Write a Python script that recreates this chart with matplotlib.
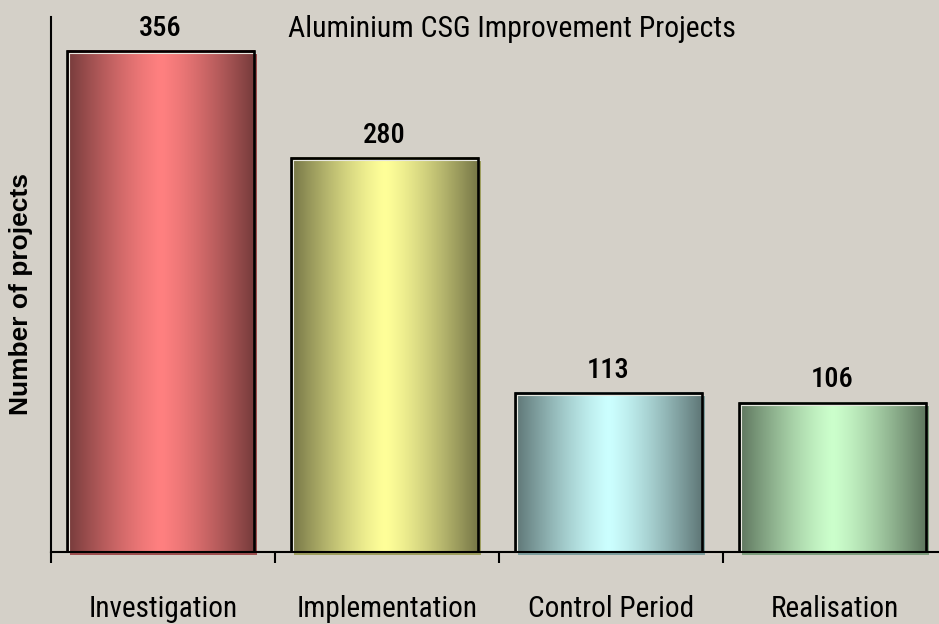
import numpy as np
import matplotlib
matplotlib.use('Agg')
import matplotlib.pyplot as plt
from matplotlib import font_manager
from matplotlib.patches import Rectangle
import matplotlib.transforms as mtrans

categories = ['Investigation', 'Implementation', 'Control Period', 'Realisation']
values = [356, 280, 113, 106]
bar_colors = ['#FF8080', '#FFFF99', '#CCFFFF', '#CCFFCC']
title = 'Aluminium CSG Improvement Projects'
ylabel = 'Number of projects'

names = {f.name for f in font_manager.fontManager.ttflist}
narrow, nscale = 'Liberation Sans', 0.84
for cand, sc in [('Liberation Sans Narrow', 1.0), ('Arial Narrow', 1.0),
                 ('Roboto Condensed', 0.93), ('Open Sans Condensed', 0.95)]:
    if cand in names:
        narrow, nscale = cand, sc
        break
regular = 'Liberation Sans' if 'Liberation Sans' in names else 'DejaVu Sans'

bg = '#D4D0C8'
W, H = 939, 624
fig = plt.figure(figsize=(W / 100, H / 100), dpi=100, facecolor=bg)
ax = fig.add_axes([51 / W, (H - 552) / H, 896 / W, 535 / H])
ax.set_facecolor(bg)

bw = 0.835
shift = -0.012
t = np.linspace(-1, 1, 200)
fac = 1 - 0.54 * np.abs(t) ** 1.3

for i, (v, c) in enumerate(zip(values, bar_colors)):
    rgb = np.array(matplotlib.colors.to_rgb(c))
    x0 = i + shift - bw / 2
    x1 = x0 + bw
    # shadow
    sh_tr = mtrans.offset_copy(ax.transData, fig=fig, x=3, y=-3, units='dots')
    ax.add_patch(Rectangle((x0, 0), bw, v, facecolor=rgb * 0.62, edgecolor='none',
                           transform=sh_tr, zorder=1, clip_on=False))
    # gradient fill
    grad = fac[:, None] * rgb[None, :]
    ax.imshow(grad[None, :, :], extent=(x0, x1, 0, v), aspect='auto',
              interpolation='bilinear', zorder=2)
    # inner highlight on top and left
    hl_tr = mtrans.offset_copy(ax.transData, fig=fig, x=2, y=-2, units='dots')
    ax.plot([x0, x0, x1], [0, v, v], color='#E8E8E0', lw=0.8, transform=hl_tr,
            zorder=2.5, solid_capstyle='butt')
    # outline
    ax.add_patch(Rectangle((x0, 0), bw, v, facecolor='none', edgecolor='black',
                           lw=1.9, zorder=3))
    ax.annotate(str(v), xy=(i + shift, v), xytext=(0, 11), textcoords='offset points',
                ha='center', va='baseline', fontsize=22 * nscale, family=narrow,
                fontweight='medium', color='black', zorder=4)
    ax.annotate(categories[i], xy=(i, 0), xycoords=('data', 'axes fraction'),
                xytext=(0, -47), textcoords='offset points', ha='center',
                va='baseline', fontsize=22.6 * nscale, family=narrow, color='black')

ax.set_xlim(-0.5, 3.5)
ax.set_ylim(0, 380)
ax.set_xticks(np.arange(-0.5, 4.0, 1.0))
ax.set_xticklabels([])
ax.set_yticks([])
ax.tick_params(axis='x', direction='out', length=8, width=1.5, color='black')
for s in ['top', 'right']:
    ax.spines[s].set_visible(False)
for s in ['left', 'bottom']:
    ax.spines[s].set_linewidth(1.5)
    ax.spines[s].set_color('black')

fig.text(512 / W, 1 - 37 / H, title, ha='center', va='baseline',
         fontsize=23 * nscale, family=narrow, color='black')
fig.text(21 / W, 1 - 294 / H, ylabel, ha='center', va='center', rotation=90,
         fontsize=19, fontweight='bold', family=regular, color='black')

fig.savefig('out.png', dpi=100, facecolor=bg)
